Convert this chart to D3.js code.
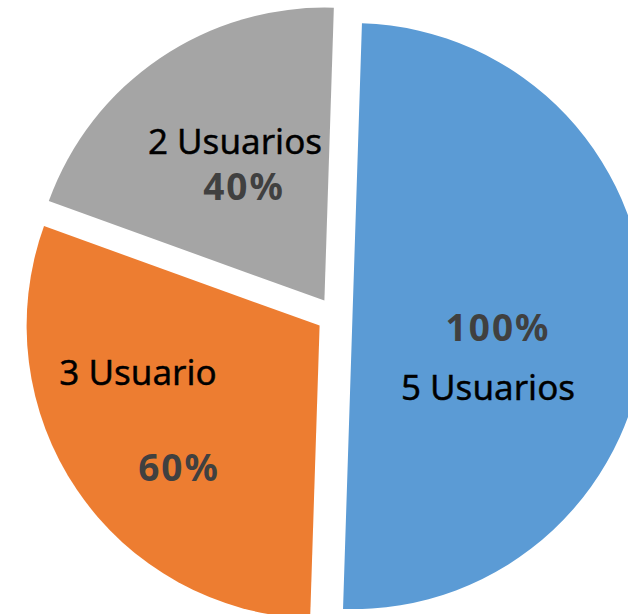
<!DOCTYPE html>
<html><head><meta charset="utf-8">
<script src="https://cdn.jsdelivr.net/npm/d3@7"></script>
<style>html,body{margin:0;padding:0;background:#fff;overflow:hidden}</style>
</head><body>
<svg id="chart" width="628" height="614"></svg>
<script>
const categories = ["5 Usuarios", "3 Usuario", "2 Usuarios"];
const values = [5, 3, 2];
const percentLabels = ["100%", "60%", "40%"];
const colors = ["#5B9BD5", "#ED7D31", "#A5A5A5"];

// label layout (absolute pixel anchors for name / percent), separate from data
const namePos = [[488, 386], [138, 371], [235, 140]];
const pctPos = [[497, 326], [178, 466], [243, 185]];

const W = 628, H = 614;
const cx = 334.5, cy = 315.5, R = 293, explode = 18;
const start = 1.85 * Math.PI / 180;

const svg = d3.select("#chart");
const pie = d3.pie().sort(null).value(d => d).startAngle(start).endAngle(start + 2 * Math.PI);
const arcs = pie(values);
const arc = d3.arc().innerRadius(0).outerRadius(R);

const g = svg.append("g").attr("transform", `translate(${cx},${cy})`);
g.selectAll("path").data(arcs).join("path")
  .attr("d", arc)
  .attr("fill", (d, i) => colors[i])
  .attr("transform", d => {
    const m = (d.startAngle + d.endAngle) / 2;
    return `translate(${Math.sin(m) * explode},${-Math.cos(m) * explode})`;
  });

const font = "'Noto Sans', 'DejaVu Sans', sans-serif";
svg.selectAll("text.name").data(categories).join("text")
  .attr("class", "name")
  .attr("x", (d, i) => namePos[i][0]).attr("y", (d, i) => namePos[i][1])
  .attr("text-anchor", "middle").attr("dominant-baseline", "central")
  .style("font-family", font).style("font-size", "35px").style("fill", "#000")
  .style("stroke", "#000").style("stroke-width", "0.4px")
  .text(d => d);
svg.selectAll("text.pct").data(percentLabels).join("text")
  .attr("class", "pct")
  .attr("x", (d, i) => pctPos[i][0] + 1).attr("y", (d, i) => pctPos[i][1])
  .attr("text-anchor", "middle").attr("dominant-baseline", "central")
  .style("font-family", font).style("font-size", "37px").style("font-weight", "bold")
  .style("letter-spacing", "2px").style("fill", "#404040")
  .text(d => d);
</script>
</body></html>
